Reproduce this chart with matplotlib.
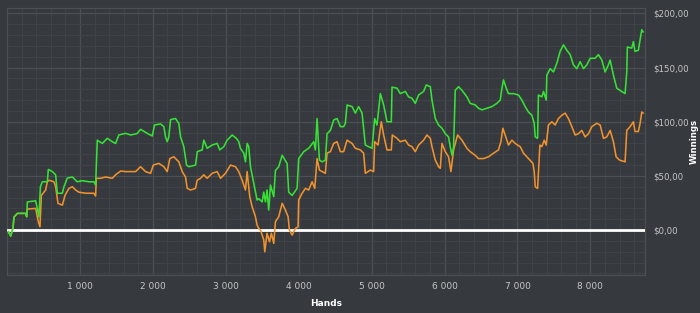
import matplotlib
matplotlib.use("Agg")
import matplotlib.pyplot as plt
from matplotlib.ticker import MultipleLocator, FuncFormatter

# ---- data (hands, winnings in $) ----
green_hands = [19, 51, 82, 96, 142, 256, 270, 279, 393, 416, 438, 458, 485, 553, 567, 622, 667, 690,
               759, 781, 827, 896, 964, 1033, 1123, 1192, 1215, 1238, 1307, 1375, 1444, 1489, 1534,
               1626, 1695, 1763, 1787, 1832, 1923, 1992, 2023, 2106, 2151, 2174, 2197, 2219, 2243,
               2311, 2356, 2380, 2425, 2462, 2493, 2585, 2610, 2677, 2699, 2745, 2814, 2882, 2918,
               2973, 3019, 3088, 3145, 3178, 3201, 3247, 3270, 3293, 3315, 3339, 3384, 3430, 3452,
               3499, 3521, 3544, 3566, 3589, 3613, 3658, 3681, 3726, 3773, 3841, 3863, 3910, 3978,
               4000, 4069, 4137, 4206, 4229, 4252, 4284, 4321, 4366, 4389, 4435, 4480, 4526, 4572,
               4617, 4640, 4663, 4732, 4777, 4822, 4869, 4914, 4959, 5006, 5042, 5074, 5120, 5165,
               5211, 5270, 5280, 5348, 5394, 5462, 5507, 5554, 5599, 5644, 5713, 5750, 5805, 5828,
               5873, 5918, 5965, 6010, 6055, 6079, 6102, 6124, 6147, 6192, 6239, 6307, 6352, 6421,
               6466, 6513, 6581, 6650, 6718, 6764, 6787, 6809, 6846, 6877, 6946, 7014, 7061, 7106,
               7151, 7198, 7230, 7244, 7276, 7288, 7335, 7357, 7394, 7403, 7449, 7494, 7540, 7585,
               7631, 7677, 7723, 7768, 7814, 7860, 7905, 7951, 7997, 8065, 8110, 8157, 8202, 8247,
               8271, 8316, 8362, 8407, 8476, 8499, 8507, 8567, 8590, 8612, 8658, 8682, 8705, 8723]
green_win = [-1.5, -5.5, 2, 12, 15.4, 15.4, 12.3, 26, 27, 20, 12, 40, 44.6, 44.6, 56, 54, 51, 34,
             34, 40, 48, 49, 44.6, 45.6, 44.6, 44.6, 41.6, 83, 80, 84.7, 81.6, 80, 87.8,
             89.3, 87.8, 88.7, 89.3, 93, 89.3, 86.9, 97, 98, 95.5, 86, 81.6, 86, 102,
             103, 98.6, 86, 77, 60, 58.5, 60, 72.4, 74, 83, 75.5, 78.5, 80, 74,
             77, 83, 87.8, 84.7, 81.6, 75.5, 71, 63, 80, 77, 58.5, 43, 27.7, 29,
             26, 35, 26, 37, 18.5, 41.6, 30.8, 55, 58.5, 69, 61.6, 35, 32, 38.5,
             66, 72.4, 75.5, 81.6, 74, 103, 64.7, 63, 64.7, 89, 92, 101.6, 103, 95.5,
             95.5, 98.6, 115.5, 114, 108, 114, 108, 78.5, 77, 75.5, 103, 97, 126, 115.5,
             100, 100, 132, 131, 126, 128, 123, 121.7, 117, 124.7, 128, 134, 132.4, 120,
             103, 97, 94, 89, 86, 77, 69, 77, 129, 132.4, 129, 123, 117, 115.5,
             112.5, 111, 112.5, 114, 117, 120, 131, 138.6, 131, 126, 126, 124.7, 120, 114,
             109, 106, 98.6, 86, 84.7, 124.7, 123, 128, 120, 143, 149, 146, 154, 165,
             171, 166, 162, 152.5, 149, 155.5, 149, 152.5, 158.6, 158.6, 162, 157, 146, 152.5,
             157, 143, 131, 129, 126, 146, 169, 168, 174, 165, 166, 175.6, 185, 183]

orange_hands = [19, 51, 82, 96, 142, 256, 270, 279, 393, 430, 452, 471, 507, 530, 553, 575, 644,
                667, 699, 759, 795, 849, 896, 941, 986, 1078, 1192, 1215, 1225, 1284, 1352, 1444,
                1489, 1558, 1626, 1695, 1763, 1832, 1900, 1969, 2006, 2082, 2151, 2197, 2233, 2288,
                2356, 2403, 2448, 2471, 2517, 2585, 2608, 2654, 2699, 2745, 2814, 2882, 2928, 2996,
                3065, 3133, 3178, 3225, 3270, 3293, 3329, 3362, 3407, 3430, 3452, 3476, 3521, 3535,
                3566, 3599, 3626, 3658, 3681, 3726, 3773, 3818, 3855, 3873, 3910, 3955, 3992, 4000,
                4047, 4092, 4137, 4184, 4220, 4252, 4284, 4321, 4366, 4389, 4435, 4480, 4526, 4572,
                4617, 4663, 4732, 4777, 4846, 4891, 4914, 4983, 5028, 5042, 5088, 5133, 5165, 5211,
                5270, 5284, 5348, 5394, 5462, 5507, 5554, 5599, 5644, 5713, 5759, 5805, 5828, 5873,
                5918, 5942, 5965, 6010, 6055, 6088, 6124, 6179, 6239, 6307, 6352, 6421, 6466, 6535,
                6603, 6672, 6740, 6773, 6800, 6846, 6877, 6924, 6969, 7038, 7083, 7151, 7212, 7230,
                7244, 7276, 7308, 7335, 7367, 7394, 7425, 7472, 7517, 7562, 7609, 7654, 7699, 7746,
                7791, 7836, 7883, 7928, 7974, 8020, 8088, 8134, 8179, 8225, 8271, 8316, 8353, 8398,
                8476, 8499, 8545, 8590, 8612, 8658, 8682, 8705, 8723]
orange_win = [-1.5, -5.5, 2, 12, 15.4, 15.4, 12.3, 19.4, 20, 7.7, 3, 32, 35, 37, 44.6, 46, 44.6,
              40, 24.7, 23, 32, 38.5, 40, 37, 35, 34, 34, 31.4, 47.8, 47.8, 49, 47.8,
              51, 54.5, 54, 54, 54, 58.5, 54, 52.4, 60, 61.6, 58.5, 54, 66, 67.7,
              63, 54, 49, 38.5, 37, 38.5, 46, 47.8, 51, 47.8, 52.4, 54, 47.8, 52.4,
              60, 58.5, 54, 46, 37, 54, 30.8, 21.5, 12.3, 4.6, 1.5, 0, -9, -20,
              -3, -10.8, -3, -12.3, 7.7, 12.3, 24.7, 18.5, 12.3, 0, -4.6, 1.5, 3, 27.7,
              34, 38.5, 37, 44.6, 38.5, 66, 55.4, 54, 52.4, 71, 72.4, 80, 81.6, 72.4,
              72.4, 83, 80, 75.5, 74, 71, 52.4, 55.4, 54, 81.6, 78.5, 100, 87.8, 74,
              74, 87.8, 84.7, 81.6, 83, 78.5, 77, 72.4, 78.5, 83, 87.8, 84.7, 77, 64.7,
              58.5, 57, 80, 72.4, 67.7, 54, 74, 87.8, 83, 75.5, 72.4, 69, 66, 66,
              67.7, 71, 74, 81.6, 94, 84.7, 78.5, 83, 80, 77, 71, 66, 61.6, 54,
              40, 38.5, 78.5, 77, 83, 78.5, 97, 100, 97, 103, 106, 108, 103, 95.5,
              87.8, 89, 92, 86, 89, 95.5, 98.6, 97, 84.7, 86, 92, 81.6, 67.7, 64.7,
              63, 92, 95.5, 100, 91, 91, 98.6, 109, 108]

x_major = [1000, 2000, 3000, 4000, 5000, 6000, 7000, 8000]
y_major = [0, 50, 100, 150, 200]

BG = "#36393d"
GRID_MINOR = "#3f4347"
GRID_MAJOR = "#4c5054"
TXT = "#c4c6c8"

fig = plt.figure(figsize=(7.0, 3.13), dpi=100, facecolor=BG)
ax = fig.add_axes([0.010, 0.121, 0.911, 0.855], facecolor=BG)

ax.set_xlim(0, 8745)
ax.set_ylim(-41.6, 205.5)

ax.xaxis.set_major_locator(plt.FixedLocator(x_major))
ax.xaxis.set_minor_locator(MultipleLocator(200))
ax.yaxis.set_major_locator(plt.FixedLocator(y_major))
ax.yaxis.set_minor_locator(MultipleLocator(10))

ax.grid(which="minor", color=GRID_MINOR, lw=0.8)
ax.grid(which="major", color=GRID_MAJOR, lw=0.9)
ax.set_axisbelow(True)

ax.xaxis.set_major_formatter(FuncFormatter(lambda v, p: f"{int(v):,}".replace(",", " ")))
ax.yaxis.set_major_formatter(FuncFormatter(lambda v, p: "$" + f"{v:.2f}".replace(".", ",")))

ax.yaxis.tick_right()
ax.tick_params(axis="both", which="both", colors=GRID_MAJOR, labelcolor=TXT, labelsize=6.5,
               length=0)
ax.tick_params(axis="y", which="major", pad=6, labelsize=6.2)
ax.tick_params(axis="x", which="major", pad=5)

for s in ax.spines.values():
    s.set_color(GRID_MAJOR)
    s.set_linewidth(0.9)

ax.axhline(0, color="white", lw=2.0, zorder=3)
ax.plot(orange_hands, orange_win, color="#f0922e", lw=1.15, zorder=4)
ax.plot(green_hands, green_win, color="#35e235", lw=1.15, zorder=5)

ax.set_xlabel("Hands", color="white", fontsize=6.5, fontweight="bold", labelpad=6)
fig.text(694 / 700, 1 - 141 / 313, "Winnings", color="white", fontsize=6.2, fontweight="bold",
         rotation=90, ha="center", va="center")

fig.savefig("out.png", dpi=100, facecolor=BG)
